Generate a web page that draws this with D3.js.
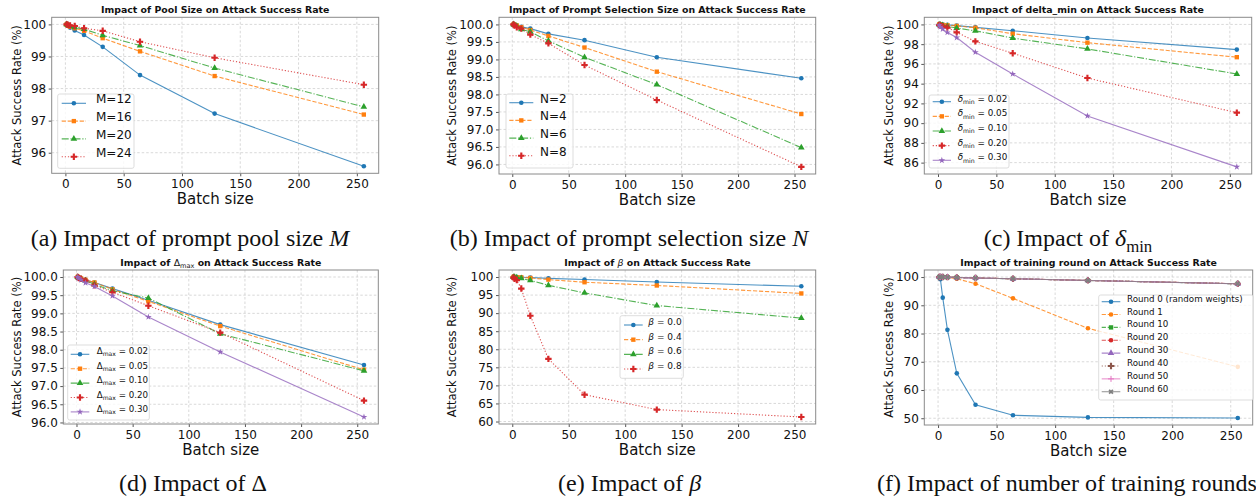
<!DOCTYPE html>
<html>
<head>
<meta charset="utf-8">
<script src="https://cdn.jsdelivr.net/npm/d3@7"></script>
<style>
  body { margin: 0; background: #fff; }
  svg text { font-family: "DejaVu Sans", sans-serif; fill: #111; }
  svg text.caption { font-family: "Liberation Serif", "Times New Roman", serif; }
</style>
</head>
<body>
<svg id="fig" width="1256" height="502"></svg>
<script>
// shared x values and ticks
const batchSizes = [1, 2, 4, 8, 16, 32, 64, 128, 256];
const xTicks = [0, 50, 100, 150, 200, 250];

// (a) pool size M
const poolLabels = ["M=12", "M=16", "M=20", "M=24"];
const poolM12 = [100, 99.95, 99.90, 99.81, 99.67, 99.30, 98.42, 97.22, 95.58];
const poolM16 = [100, 99.97, 99.93, 99.88, 99.80, 99.57, 99.16, 98.39, 97.19];
const poolM20 = [100, 99.98, 99.95, 99.91, 99.85, 99.66, 99.34, 98.64, 97.43];
const poolM24 = [100, 99.99, 99.97, 99.95, 99.88, 99.80, 99.46, 98.96, 98.12];

// (b) prompt selection size N
const selLabels = ["N=2", "N=4", "N=6", "N=8"];
const selN2 = [100, 99.99, 99.97, 99.93, 99.88, 99.73, 99.55, 99.06, 98.46];
const selN4 = [100, 99.99, 99.97, 99.92, 99.84, 99.67, 99.34, 98.65, 97.44];
const selN6 = [100, 99.98, 99.95, 99.86, 99.79, 99.53, 99.06, 98.28, 96.48];
const selN8 = [100, 99.97, 99.92, 99.88, 99.71, 99.46, 98.84, 97.84, 95.93];

// (c) delta_min
const deltaMinValues = ["0.02", "0.05", "0.10", "0.20", "0.30"];
const dmin002 = [100, 100, 99.98, 99.95, 99.88, 99.70, 99.36, 98.63, 97.45];
const dmin005 = [100, 99.98, 99.95, 99.92, 99.85, 99.66, 99.06, 98.15, 96.68];
const dmin010 = [99.98, 99.95, 99.90, 99.80, 99.63, 99.35, 98.62, 97.52, 94.98];
const dmin020 = [99.95, 99.90, 99.82, 99.68, 99.20, 98.28, 97.08, 94.57, 91.06];
const dmin030 = [99.90, 99.75, 99.52, 99.18, 98.67, 97.18, 94.98, 90.73, 85.57];

// (d) Delta_max
const deltaMaxValues = ["0.02", "0.05", "0.10", "0.20", "0.30"];
const dmax002 = [100, 99.98, 99.96, 99.92, 99.85, 99.68, 99.36, 98.69, 97.58];
const dmax005 = [100, 99.98, 99.96, 99.92, 99.85, 99.66, 99.33, 98.65, 97.45];
const dmax010 = [100, 99.98, 99.95, 99.90, 99.80, 99.62, 99.42, 98.44, 97.42];
const dmax020 = [100, 99.97, 99.95, 99.90, 99.77, 99.58, 99.21, 98.47, 96.60];
const dmax030 = [100, 99.96, 99.92, 99.84, 99.74, 99.48, 98.90, 97.94, 96.15];

// (e) beta
const betaValues = ["0.0", "0.4", "0.6", "0.8"];
const beta00 = [100, 100, 99.98, 99.95, 99.88, 99.62, 99.30, 98.60, 97.42];
const beta04 = [100, 99.98, 99.95, 99.90, 99.73, 99.28, 98.55, 97.65, 95.45];
const beta06 = [100, 99.95, 99.82, 99.60, 99.05, 97.70, 95.60, 92.10, 88.62];
const beta08 = [99.90, 99.50, 99.15, 96.80, 89.28, 77.33, 67.43, 63.30, 61.25];

// (f) training rounds
const roundLabels = ["Round 0 (random weights)", "Round 1", "Round 10", "Round 20",
                     "Round 30", "Round 40", "Round 50", "Round 60"];
const round0  = [99.90, 99.20, 92.70, 81.30, 65.90, 54.80, 51.05, 50.30, 50.10];
const round1  = [100, 100, 99.97, 99.88, 99.40, 97.65, 92.45, 81.85, 68.20];
const round10 = [100, 100, 99.99, 99.96, 99.86, 99.66, 99.38, 98.78, 97.60];
const round20 = [100, 100, 99.99, 99.97, 99.87, 99.67, 99.40, 98.80, 97.63];
const round30 = [100, 100, 99.99, 99.96, 99.85, 99.65, 99.39, 98.79, 97.58];
const round40 = [100, 100, 99.99, 99.97, 99.86, 99.66, 99.41, 98.81, 97.62];
const round50 = [100, 100, 99.99, 99.96, 99.86, 99.65, 99.40, 98.80, 97.60];
const round60 = [100, 100, 99.99, 99.97, 99.86, 99.66, 99.40, 98.80, 97.61];

const tab10 = ["#1f77b4", "#ff7f0e", "#2ca02c", "#d62728", "#9467bd", "#8c564b", "#e377c2", "#7f7f7f"];
const dashes = {solid: null, dashed: "4.2,1.8", dashdot: "7,1.8,1.2,1.8", dotted: "1.2,1.9"};

// line style + marker for each series
const defaultStyles = [["solid", "circle"], ["dashed", "square"], ["dashdot", "triangle"],
                       ["dotted", "plus"], ["solid", "star"]];
const roundStyles = [["solid", "circle"], ["dashed", "circle"], ["dashed", "square"], ["dashed", "circle"],
                     ["dashdot", "triangle"], ["dotted", "plus"], ["solid", "thinplus"], ["solid", "x"]];

const svg = d3.select("#fig");

function padExtent(ext) {
  let span = ext[1] - ext[0];
  return [ext[0] - 0.05 * span, ext[1] + 0.05 * span];
}

// text with italic / subscript / non-bold parts
function richText(sel, parts, fs) {
  let shift = 0;
  parts.forEach(p => {
    let target = p.sub ? fs * 0.25 : 0;
    let ts = sel.append("tspan").text(p.t).attr("dy", target - shift);
    shift = target;
    if (p.i) ts.attr("font-style", "italic");
    if (p.sub) ts.attr("font-size", fs * 0.7);
    if (p.m) ts.attr("font-weight", "normal");
  });
}

function drawMarker(g, kind, cx, cy, color) {
  let m;
  if (kind === "circle") {
    m = g.append("circle").attr("cx", cx).attr("cy", cy).attr("r", 2.3).attr("fill", color);
  } else if (kind === "thinplus") {
    m = g.append("path").attr("d", "M-3,0H3M0,-3V3").attr("stroke", color).attr("stroke-width", 1)
      .attr("fill", "none");
  } else {
    let types = {square: [d3.symbolSquare, 19], triangle: [d3.symbolTriangle, 19],
                 plus: [d3.symbolCross, 23], star: [d3.symbolStar, 14], x: [d3.symbolCross, 16]};
    let t = types[kind];
    m = g.append("path").attr("d", d3.symbol().type(t[0]).size(t[1])()).attr("fill", color);
  }
  if (kind !== "circle") {
    m.attr("transform", `translate(${cx},${cy})` + (kind === "x" ? " rotate(45)" : ""));
  }
}

function drawPanel(p) {
  let x = d3.scaleLinear().domain(padExtent(d3.extent(batchSizes))).range([p.left, p.right]);
  let y = d3.scaleLinear().domain(padExtent(d3.extent(p.series.flat()))).range([p.bottom, p.top]);
  let g = svg.append("g");

  // grid
  g.append("g").selectAll("line").data(xTicks).join("line")
    .attr("x1", d => x(d)).attr("x2", d => x(d)).attr("y1", p.top).attr("y2", p.bottom)
    .attr("stroke", "#c8c8c8").attr("stroke-width", 0.7).attr("stroke-dasharray", "2.5,2");
  g.append("g").selectAll("line").data(p.yTicks).join("line")
    .attr("x1", p.left).attr("x2", p.right).attr("y1", d => y(d)).attr("y2", d => y(d))
    .attr("stroke", "#c8c8c8").attr("stroke-width", 0.7).attr("stroke-dasharray", "2.5,2");

  // axes
  let xa = g.append("g").attr("transform", `translate(0,${p.bottom})`)
    .call(d3.axisBottom(x).tickValues(xTicks).tickSize(3).tickPadding(3));
  let ya = g.append("g").attr("transform", `translate(${p.left},0)`)
    .call(d3.axisLeft(y).tickValues(p.yTicks).tickFormat(p.fmt).tickSize(3).tickPadding(2.5));
  [xa, ya].forEach(a => {
    a.select(".domain").remove();
    a.selectAll(".tick line").attr("stroke", "#555");
    a.selectAll(".tick text").attr("font-size", 12).attr("font-family", "DejaVu Sans").attr("fill", "#111");
  });

  // frame
  g.append("rect").attr("x", p.left).attr("y", p.top)
    .attr("width", p.right - p.left).attr("height", p.bottom - p.top)
    .attr("fill", "none").attr("stroke", "#8a8a8a").attr("stroke-width", 1);

  // series
  p.series.forEach((vals, i) => {
    let st = p.styles[i], color = tab10[i];
    g.append("path")
      .datum(vals)
      .attr("fill", "none")
      .attr("stroke", color)
      .attr("stroke-width", 1.1)
      .attr("stroke-opacity", 0.8)
      .attr("stroke-dasharray", dashes[st[0]])
      .attr("d", d3.line().x((d, j) => x(batchSizes[j])).y(d => y(d)));
    let mg = g.append("g");
    vals.forEach((v, j) => drawMarker(mg, st[1], x(batchSizes[j]), y(v), color));
  });

  // title
  let title = g.append("text")
    .attr("x", (p.left + p.right) / 2).attr("y", p.top - 4)
    .attr("text-anchor", "middle").attr("font-size", 9.4).attr("font-weight", "bold");
  richText(title, p.title, 9.4);

  // axis labels
  g.append("text")
    .attr("x", (p.left + p.right) / 2).attr("y", p.bottom + 30.5)
    .attr("text-anchor", "middle").attr("font-size", 15)
    .text("Batch size");
  g.append("text")
    .attr("transform", `translate(${p.ylabelX},${(p.top + p.bottom) / 2}) rotate(-90)`)
    .attr("text-anchor", "middle").attr("dy", "0.35em").attr("font-size", 11.5)
    .text("Attack Success Rate (%)");

  // legend
  let L = p.legend;
  let lg = g.append("g");
  lg.append("rect").attr("x", L.x).attr("y", L.y).attr("width", L.w).attr("height", L.h)
    .attr("rx", 2).attr("fill", "#fff").attr("fill-opacity", 0.8)
    .attr("stroke", "#d4d4d4").attr("stroke-width", 0.8);
  p.labels.forEach((lab, i) => {
    let ry = L.first + i * L.step, st = p.styles[i], color = tab10[i];
    lg.append("line").attr("x1", L.x0).attr("x2", L.x1).attr("y1", ry).attr("y2", ry)
      .attr("stroke", color).attr("stroke-width", 1.1).attr("stroke-opacity", 0.8)
      .attr("stroke-dasharray", dashes[st[0]]);
    drawMarker(lg, st[1], (L.x0 + L.x1) / 2, ry, color);
    let t = lg.append("text").attr("x", L.tx).attr("y", ry).attr("dy", "0.36em").attr("font-size", L.fs);
    richText(t, lab, L.fs);
  });

  // caption
  let cap = svg.append("text").attr("class", "caption")
    .attr("x", p.capX).attr("y", p.capY).attr("text-anchor", "middle").attr("font-size", 24);
  richText(cap, p.caption, 24);
}

const panels = [
  {
    left: 51.7, right: 378.7, top: 17.3, bottom: 173.3, ylabelX: 16.7,
    yTicks: [96, 97, 98, 99, 100], fmt: d3.format("d"),
    series: [poolM12, poolM16, poolM20, poolM24], styles: defaultStyles,
    labels: poolLabels.map(s => [{t: s}]),
    title: [{t: "Impact of Pool Size on Attack Success Rate"}],
    legend: {x: 57.7, y: 94, w: 76.3, h: 74.3, first: 103.3, step: 17.8, x0: 61.7, x1: 86, tx: 96, fs: 12},
    caption: [{t: "(a) Impact of prompt pool size "}, {t: "M", i: true}], capX: 190, capY: 245.5
  },
  {
    left: 499, right: 815.7, top: 17.3, bottom: 174, ylabelX: 452,
    yTicks: d3.range(96, 100.01, 0.5), fmt: d3.format(".1f"),
    series: [selN2, selN4, selN6, selN8], styles: defaultStyles,
    labels: selLabels.map(s => [{t: s}]),
    title: [{t: "Impact of Prompt Selection Size on Attack Success Rate"}],
    legend: {x: 506, y: 94, w: 67, h: 74, first: 102.7, step: 17.7, x0: 509.3, x1: 533.3, tx: 540, fs: 12},
    caption: [{t: "(b) Impact of prompt selection size "}, {t: "N", i: true}], capX: 629, capY: 245.5
  },
  {
    left: 924.3, right: 1251.7, top: 17.3, bottom: 174, ylabelX: 889,
    yTicks: d3.range(86, 100.01, 2), fmt: d3.format("d"),
    series: [dmin002, dmin005, dmin010, dmin020, dmin030], styles: defaultStyles,
    labels: deltaMinValues.map(v => [{t: "δ", i: true}, {t: "min", sub: true}, {t: " = " + v}]),
    title: [{t: "Impact of delta_min on Attack Success Rate"}],
    legend: {x: 929, y: 95, w: 80, h: 73, first: 101.7, step: 14.65, x0: 932.7, x1: 951, tx: 957.7, fs: 8.8},
    caption: [{t: "(c) Impact of "}, {t: "δ", i: true}, {t: "min", sub: true}], capX: 1068, capY: 245.5
  },
  {
    left: 63.3, right: 378.3, top: 270, bottom: 424, ylabelX: 16.7,
    yTicks: d3.range(96, 100.01, 0.5), fmt: d3.format(".1f"),
    series: [dmax002, dmax005, dmax010, dmax020, dmax030], styles: defaultStyles,
    labels: deltaMaxValues.map(v => [{t: "Δ"}, {t: "max", sub: true}, {t: " = " + v}]),
    title: [{t: "Impact of "}, {t: "Δ", m: true}, {t: "max", sub: true, m: true}, {t: " on Attack Success Rate"}],
    legend: {x: 67.7, y: 345, w: 81.6, h: 75, first: 354.3, step: 14.4, x0: 70.7, x1: 89.3, tx: 96.7, fs: 8.7},
    caption: [{t: "(d) Impact of Δ"}], capX: 193, capY: 490.5
  },
  {
    left: 499, right: 815.7, top: 270, bottom: 424, ylabelX: 452,
    yTicks: d3.range(60, 100.01, 5), fmt: d3.format("d"),
    series: [beta00, beta04, beta06, beta08], styles: defaultStyles,
    labels: betaValues.map(v => [{t: "β", i: true}, {t: " = " + v}]),
    title: [{t: "Impact of "}, {t: "β", i: true, m: true}, {t: " on Attack Success Rate"}],
    legend: {x: 620, y: 315.7, w: 63.3, h: 62.6, first: 325, step: 14.67, x0: 624, x1: 642.7, tx: 648.3, fs: 9},
    caption: [{t: "(e) Impact of "}, {t: "β", i: true}], capX: 629.7, capY: 490.5
  },
  {
    left: 924.3, right: 1252.7, top: 270, bottom: 425, ylabelX: 889,
    yTicks: d3.range(50, 100.01, 10), fmt: d3.format("d"),
    series: [round0, round1, round10, round20, round30, round40, round50, round60], styles: roundStyles,
    labels: roundLabels.map(s => [{t: s}]),
    title: [{t: "Impact of training round on Attack Success Rate"}],
    legend: {x: 1098.7, y: 295, w: 154.6, h: 105, first: 301.7, step: 12.86, x0: 1101.7, x1: 1120.3, tx: 1127, fs: 8.7},
    caption: [{t: "(f) Impact of number of training rounds"}], capX: 1067, capY: 490.5
  }
];

panels.forEach(drawPanel);
</script>
</body>
</html>
